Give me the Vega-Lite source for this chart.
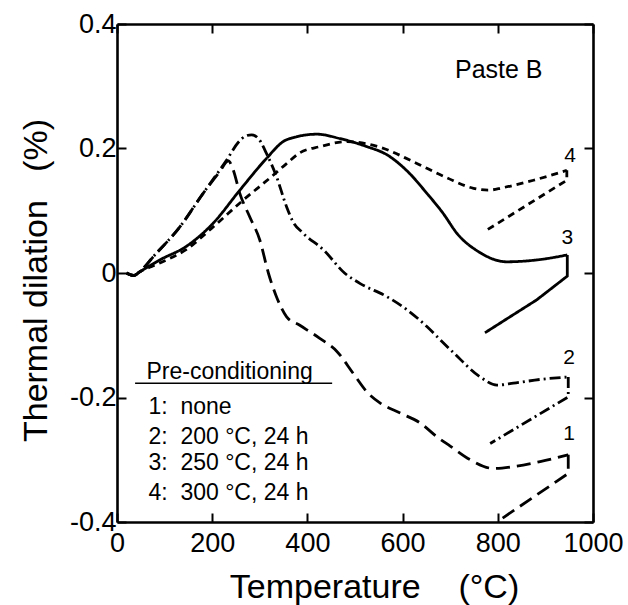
{
  "$schema": "https://vega.github.io/schema/vega-lite/v6.json",
  "width": 476,
  "height": 498,
  "autosize": {"type": "none"},
  "padding": {"left": 117, "top": 24, "right": 35, "bottom": 83},
  "background": "white",
  "config": {
    "view": {"stroke": null},
    "font": "Liberation Sans",
    "axis": {
      "grid": false,
      "domainColor": "black",
      "domainWidth": 2.6,
      "tickColor": "black",
      "tickWidth": 2,
      "tickSize": -9,
      "labelColor": "black",
      "labelFont": "Liberation Sans",
      "labelFontSize": 27,
      "titleFont": "Liberation Sans",
      "titleFontSize": 34,
      "titleFontWeight": "normal",
      "titleColor": "black"
    }
  },
  "datasets": {
    "curves": [
      {"s": "1", "p": "h", "i": 0, "t": 20, "d": 0}, {"s": "1", "p": "h", "i": 1, "t": 35, "d": -0.004}, {"s": "1", "p": "h", "i": 2, "t": 50, "d": 0.004},
      {"s": "1", "p": "h", "i": 3, "t": 76, "d": 0.026}, {"s": "1", "p": "h", "i": 4, "t": 132, "d": 0.074}, {"s": "1", "p": "h", "i": 5, "t": 181, "d": 0.128},
      {"s": "1", "p": "h", "i": 6, "t": 215, "d": 0.162}, {"s": "1", "p": "h", "i": 7, "t": 234, "d": 0.18}, {"s": "1", "p": "h", "i": 8, "t": 244, "d": 0.166},
      {"s": "1", "p": "h", "i": 9, "t": 258, "d": 0.128}, {"s": "1", "p": "h", "i": 10, "t": 279, "d": 0.09}, {"s": "1", "p": "h", "i": 11, "t": 300, "d": 0.053},
      {"s": "1", "p": "h", "i": 12, "t": 318, "d": 0}, {"s": "1", "p": "h", "i": 13, "t": 335, "d": -0.038}, {"s": "1", "p": "h", "i": 14, "t": 356, "d": -0.07},
      {"s": "1", "p": "h", "i": 15, "t": 384, "d": -0.084}, {"s": "1", "p": "h", "i": 16, "t": 426, "d": -0.105}, {"s": "1", "p": "h", "i": 17, "t": 462, "d": -0.126},
      {"s": "1", "p": "h", "i": 18, "t": 496, "d": -0.161}, {"s": "1", "p": "h", "i": 19, "t": 525, "d": -0.191}, {"s": "1", "p": "h", "i": 20, "t": 553, "d": -0.209},
      {"s": "1", "p": "h", "i": 21, "t": 595, "d": -0.225}, {"s": "1", "p": "h", "i": 22, "t": 637, "d": -0.241}, {"s": "1", "p": "h", "i": 23, "t": 672, "d": -0.263},
      {"s": "1", "p": "h", "i": 24, "t": 700, "d": -0.278}, {"s": "1", "p": "h", "i": 25, "t": 742, "d": -0.3}, {"s": "1", "p": "h", "i": 26, "t": 791, "d": -0.314},
      {"s": "1", "p": "h", "i": 27, "t": 833, "d": -0.311}, {"s": "1", "p": "h", "i": 28, "t": 889, "d": -0.303}, {"s": "1", "p": "h", "i": 29, "t": 948, "d": -0.292},
      {"s": "1", "p": "c", "i": 30, "t": 948, "d": -0.292}, {"s": "1", "p": "c", "i": 31, "t": 948, "d": -0.322}, {"s": "1", "p": "c", "i": 32, "t": 798, "d": -0.4},

      {"s": "2", "p": "h", "i": 0, "t": 20, "d": 0}, {"s": "2", "p": "h", "i": 1, "t": 35, "d": -0.004}, {"s": "2", "p": "h", "i": 2, "t": 48, "d": 0.002},
      {"s": "2", "p": "h", "i": 3, "t": 76, "d": 0.026}, {"s": "2", "p": "h", "i": 4, "t": 132, "d": 0.074}, {"s": "2", "p": "h", "i": 5, "t": 181, "d": 0.128},
      {"s": "2", "p": "h", "i": 6, "t": 230, "d": 0.181}, {"s": "2", "p": "h", "i": 7, "t": 255, "d": 0.21}, {"s": "2", "p": "h", "i": 8, "t": 270, "d": 0.22},
      {"s": "2", "p": "h", "i": 9, "t": 283, "d": 0.222}, {"s": "2", "p": "h", "i": 10, "t": 298, "d": 0.215}, {"s": "2", "p": "h", "i": 11, "t": 314, "d": 0.192},
      {"s": "2", "p": "h", "i": 12, "t": 335, "d": 0.155}, {"s": "2", "p": "h", "i": 13, "t": 356, "d": 0.107}, {"s": "2", "p": "h", "i": 14, "t": 370, "d": 0.082},
      {"s": "2", "p": "h", "i": 15, "t": 391, "d": 0.064}, {"s": "2", "p": "h", "i": 16, "t": 434, "d": 0.037}, {"s": "2", "p": "h", "i": 17, "t": 478, "d": 0},
      {"s": "2", "p": "h", "i": 18, "t": 511, "d": -0.017}, {"s": "2", "p": "h", "i": 19, "t": 567, "d": -0.038}, {"s": "2", "p": "h", "i": 20, "t": 609, "d": -0.059},
      {"s": "2", "p": "h", "i": 21, "t": 651, "d": -0.086}, {"s": "2", "p": "h", "i": 22, "t": 680, "d": -0.108}, {"s": "2", "p": "h", "i": 23, "t": 707, "d": -0.128},
      {"s": "2", "p": "h", "i": 24, "t": 763, "d": -0.167}, {"s": "2", "p": "h", "i": 25, "t": 798, "d": -0.18}, {"s": "2", "p": "h", "i": 26, "t": 833, "d": -0.177},
      {"s": "2", "p": "h", "i": 27, "t": 889, "d": -0.171}, {"s": "2", "p": "h", "i": 28, "t": 948, "d": -0.167},
      {"s": "2", "p": "c", "i": 29, "t": 948, "d": -0.167}, {"s": "2", "p": "c", "i": 30, "t": 948, "d": -0.199}, {"s": "2", "p": "c", "i": 31, "t": 784, "d": -0.274},

      {"s": "3", "p": "h", "i": 0, "t": 20, "d": 0}, {"s": "3", "p": "h", "i": 1, "t": 35, "d": -0.004}, {"s": "3", "p": "h", "i": 2, "t": 48, "d": 0.002},
      {"s": "3", "p": "h", "i": 3, "t": 90, "d": 0.021}, {"s": "3", "p": "h", "i": 4, "t": 146, "d": 0.043}, {"s": "3", "p": "h", "i": 5, "t": 202, "d": 0.08},
      {"s": "3", "p": "h", "i": 6, "t": 258, "d": 0.133}, {"s": "3", "p": "h", "i": 7, "t": 314, "d": 0.184}, {"s": "3", "p": "h", "i": 8, "t": 349, "d": 0.211},
      {"s": "3", "p": "h", "i": 9, "t": 378, "d": 0.219}, {"s": "3", "p": "h", "i": 10, "t": 420, "d": 0.223}, {"s": "3", "p": "h", "i": 11, "t": 468, "d": 0.216},
      {"s": "3", "p": "h", "i": 12, "t": 525, "d": 0.203}, {"s": "3", "p": "h", "i": 13, "t": 567, "d": 0.19}, {"s": "3", "p": "h", "i": 14, "t": 612, "d": 0.162},
      {"s": "3", "p": "h", "i": 15, "t": 651, "d": 0.128}, {"s": "3", "p": "h", "i": 16, "t": 684, "d": 0.097}, {"s": "3", "p": "h", "i": 17, "t": 716, "d": 0.062},
      {"s": "3", "p": "h", "i": 18, "t": 758, "d": 0.035}, {"s": "3", "p": "h", "i": 19, "t": 819, "d": 0.018}, {"s": "3", "p": "h", "i": 20, "t": 882, "d": 0.021},
      {"s": "3", "p": "h", "i": 21, "t": 946, "d": 0.029},
      {"s": "3", "p": "c", "i": 22, "t": 946, "d": 0.029}, {"s": "3", "p": "c", "i": 23, "t": 946, "d": -0.005}, {"s": "3", "p": "c", "i": 24, "t": 882, "d": -0.043},
      {"s": "3", "p": "c", "i": 25, "t": 773, "d": -0.096},

      {"s": "4", "p": "h", "i": 0, "t": 20, "d": 0}, {"s": "4", "p": "h", "i": 1, "t": 35, "d": -0.004}, {"s": "4", "p": "h", "i": 2, "t": 48, "d": 0.002},
      {"s": "4", "p": "h", "i": 3, "t": 90, "d": 0.016}, {"s": "4", "p": "h", "i": 4, "t": 146, "d": 0.038}, {"s": "4", "p": "h", "i": 5, "t": 202, "d": 0.074},
      {"s": "4", "p": "h", "i": 6, "t": 265, "d": 0.117}, {"s": "4", "p": "h", "i": 7, "t": 328, "d": 0.157}, {"s": "4", "p": "h", "i": 8, "t": 355, "d": 0.175},
      {"s": "4", "p": "h", "i": 9, "t": 384, "d": 0.193}, {"s": "4", "p": "h", "i": 10, "t": 426, "d": 0.203}, {"s": "4", "p": "h", "i": 11, "t": 483, "d": 0.211},
      {"s": "4", "p": "h", "i": 12, "t": 553, "d": 0.202}, {"s": "4", "p": "h", "i": 13, "t": 622, "d": 0.179}, {"s": "4", "p": "h", "i": 14, "t": 693, "d": 0.153},
      {"s": "4", "p": "h", "i": 15, "t": 749, "d": 0.136}, {"s": "4", "p": "h", "i": 16, "t": 780, "d": 0.133}, {"s": "4", "p": "h", "i": 17, "t": 810, "d": 0.137},
      {"s": "4", "p": "h", "i": 18, "t": 875, "d": 0.149}, {"s": "4", "p": "h", "i": 19, "t": 945, "d": 0.165},
      {"s": "4", "p": "c", "i": 20, "t": 945, "d": 0.165}, {"s": "4", "p": "c", "i": 21, "t": 945, "d": 0.149}, {"s": "4", "p": "c", "i": 22, "t": 777, "d": 0.069}
    ],
    "labels": [
      {"txt": "1", "t": 950, "d": -0.258},
      {"txt": "2", "t": 950, "d": -0.137},
      {"txt": "3", "t": 946, "d": 0.057},
      {"txt": "4", "t": 952, "d": 0.188}
    ],
    "legend": [
      {"txt": "Pre-conditioning", "t": 62, "d": -0.159},
      {"txt": "1:\u00a0\u00a0none", "t": 66, "d": -0.215},
      {"txt": "2:\u00a0\u00a0200\u00a0°C, 24 h", "t": 66, "d": -0.263},
      {"txt": "3:\u00a0\u00a0250\u00a0°C, 24 h", "t": 66, "d": -0.305},
      {"txt": "4:\u00a0\u00a0300\u00a0°C, 24 h", "t": 66, "d": -0.353}
    ],
    "underline": [{"t1": 38, "t2": 452, "d": -0.177}],
    "title": [{"txt": "Paste B", "t": 802, "d": 0.326}]
  },
  "layer": [
    {
      "data": {"name": "curves"},
      "transform": [{"filter": "datum.p == 'h'"}],
      "mark": {"type": "line", "strokeWidth": 2.8, "color": "black", "strokeCap": "butt", "interpolate": "monotone", "clip": true},
      "encoding": {
        "x": {
          "field": "t", "type": "quantitative",
          "scale": {"domain": [0, 1000], "nice": false},
          "axis": {"orient": "bottom", "values": [0, 200, 400, 600, 800, 1000], "format": "d", "title": "Temperature\u00a0\u00a0\u00a0\u00a0(°C)", "labelPadding": 17, "labelFlush": false, "titleX": 257, "titleY": 75, "titleBaseline": "alphabetic"}
        },
        "y": {
          "field": "d", "type": "quantitative",
          "scale": {"domain": [-0.4, 0.4], "nice": false},
          "axis": {"orient": "left", "values": [-0.4, -0.2, 0, 0.2, 0.4], "title": "Thermal dilation\u00a0\u00a0\u00a0(%)", "labelPadding": 10, "titlePadding": 16, "titleY": 256, "labelFlush": false,
                   "labelExpr": "datum.value == 0 ? '0' : (datum.value < 0 ? '-' + format(-datum.value, '.1f') : format(datum.value, '.1f'))"}
        },
        "order": {"field": "i", "type": "quantitative"},
        "strokeDash": {
          "field": "s", "type": "nominal",
          "scale": {"domain": ["1", "2", "3", "4"], "range": [[14, 7], [11, 4, 2, 4], [1, 0], [7, 5]]},
          "legend": null
        }
      }
    },
    {
      "data": {"name": "curves"},
      "transform": [{"filter": "datum.p == 'c'"}],
      "mark": {"type": "line", "strokeWidth": 2.8, "color": "black", "strokeCap": "butt", "clip": true},
      "encoding": {
        "x": {"field": "t", "type": "quantitative", "axis": null},
        "y": {"field": "d", "type": "quantitative", "axis": null},
        "order": {"field": "i", "type": "quantitative"},
        "strokeDash": {"field": "s", "type": "nominal", "legend": null}
      }
    },
    {
      "data": {"name": "underline"},
      "mark": {"type": "rule", "color": "black", "strokeWidth": 1.5},
      "encoding": {
        "x": {"field": "t1", "type": "quantitative", "axis": {"orient": "top", "values": [0, 200, 400, 600, 800, 1000], "labels": false, "title": null, "domain": true, "ticks": true}},
        "x2": {"field": "t2"},
        "y": {"field": "d", "type": "quantitative", "axis": {"orient": "right", "values": [-0.4, -0.2, 0, 0.2, 0.4], "labels": false, "title": null, "domain": true, "ticks": true}}
      }
    },
    {
      "mark": {"type": "rule", "color": "black", "strokeWidth": 1.4},
      "encoding": {"y": {"datum": 0, "type": "quantitative", "axis": null}}
    },
    {
      "data": {"name": "labels"},
      "mark": {"type": "text", "fontSize": 21, "color": "black", "align": "center", "baseline": "middle"},
      "encoding": {
        "x": {"field": "t", "type": "quantitative", "axis": null},
        "y": {"field": "d", "type": "quantitative", "axis": null},
        "text": {"field": "txt"}
      }
    },
    {
      "data": {"name": "legend"},
      "mark": {"type": "text", "fontSize": 23, "color": "black", "align": "left", "baseline": "middle"},
      "encoding": {
        "x": {"field": "t", "type": "quantitative", "axis": null},
        "y": {"field": "d", "type": "quantitative", "axis": null},
        "text": {"field": "txt"}
      }
    },
    {
      "data": {"name": "title"},
      "mark": {"type": "text", "fontSize": 25, "color": "black", "align": "center", "baseline": "middle"},
      "encoding": {
        "x": {"field": "t", "type": "quantitative", "axis": null},
        "y": {"field": "d", "type": "quantitative", "axis": null},
        "text": {"field": "txt"}
      }
    }
  ]
}
